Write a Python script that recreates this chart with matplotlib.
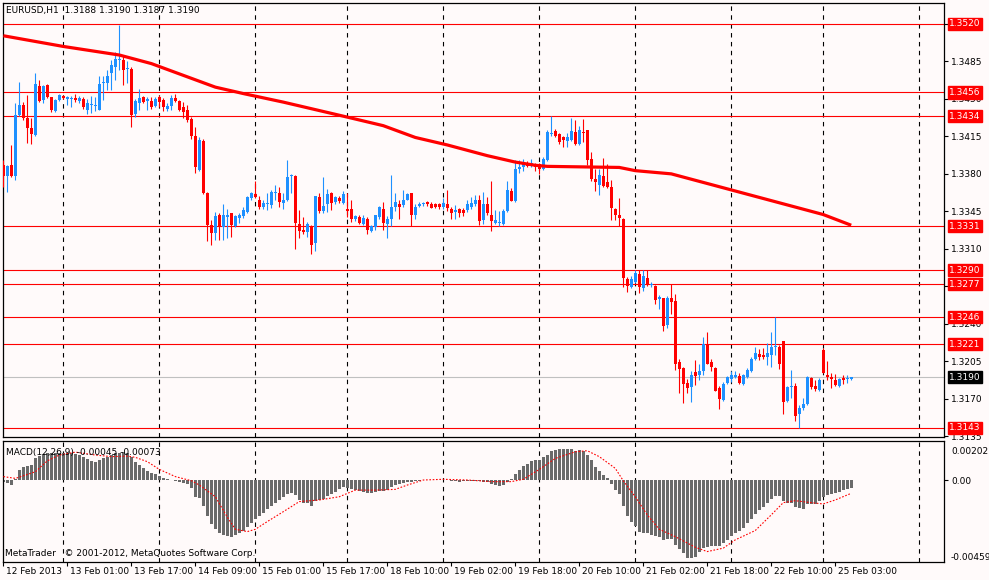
import matplotlib.pyplot as plt
import matplotlib.transforms as mtransforms
import numpy as np

# EURUSD H1 candles, bar 0 = 12 Feb 2013 09:00
opens = [
1.3388,1.3378,1.3388,1.3378,1.3435,1.3444,1.3432,1.3423,1.3416,1.3462,
1.3449,1.3463,1.3452,1.3439,1.3449,1.3453,1.3450,1.3450,1.3451,1.3448,
1.3450,1.3440,1.3444,1.3443,1.3440,1.3465,1.3465,1.3474,1.3480,1.3486,
1.3486,1.3478,1.3478,1.3436,1.3446,1.3452,1.3448,1.3448,1.3443,1.3452,
1.3449,1.3441,1.3443,1.3451,1.3448,1.3442,1.3440,1.3431,1.3415,1.3384,
1.3411,1.3362,1.3332,1.3325,1.3342,1.3330,1.3340,1.3343,1.3331,1.3339,
1.3341,1.3344,1.3357,1.3361,1.3356,1.3349,1.3352,1.3351,1.3362,1.3362,
1.3353,1.3356,1.3378,1.3378,1.3333,1.3328,1.3326,1.3331,1.3315,1.3358,
1.3345,1.3352,1.3362,1.3354,1.3357,1.3353,1.3347,1.3347,1.3338,1.3340,
1.3333,1.3338,1.3327,1.3330,1.3340,1.3347,1.3333,1.3338,1.3349,1.3352,
1.3351,1.3356,1.3362,1.3342,1.3350,1.3352,1.3354,1.3352,1.3352,1.3352,
1.3349,1.3352,1.3347,1.3344,1.3347,1.3346,1.3346,1.3349,1.3352,1.3356,
1.3337,1.3352,1.3342,1.3334,1.3334,1.3333,1.3345,1.3364,1.3355,1.3385,
1.3386,1.3390,1.3387,1.3389,1.3389,1.3385,1.3393,1.3417,1.3420,1.3417,
1.3414,1.3411,1.3412,1.3419,1.3408,1.3419,1.3421,1.3394,1.3375,1.3370,
1.3378,1.3372,1.3368,1.3347,1.3342,1.3338,1.3282,1.3274,1.3279,1.3286,
1.3273,1.3283,1.3276,1.3275,1.3263,1.3264,1.3239,1.3264,1.3261,1.3204,
1.3199,1.3185,1.3181,1.3195,1.3192,1.3196,1.3221,1.3204,1.3199,1.3180,
1.3169,1.3185,1.3188,1.3190,1.3191,1.3184,1.3190,1.3196,1.3207,1.3212,
1.3211,1.3209,1.3211,1.3218,1.3218,1.3224,1.3168,1.3181,1.3182,1.3156,
1.3161,1.3165,1.3189,1.3182,1.3178,1.3215,1.3192,1.3190,1.3187,1.3182,
1.3189,1.3188,1.3188]

highs = [
1.3393,1.3388,1.3407,1.3446,1.3466,1.3447,1.3454,1.3432,1.3474,1.3468,
1.3463,1.3464,1.3452,1.3450,1.3455,1.3454,1.3453,1.3453,1.3455,1.3453,
1.3452,1.3450,1.3453,1.3452,1.3471,1.3471,1.3477,1.3486,1.3494,1.3519,
1.3491,1.3485,1.3480,1.3450,1.3459,1.3453,1.3452,1.3452,1.3452,1.3454,
1.3451,1.3446,1.3454,1.3455,1.3449,1.3447,1.3444,1.3433,1.3424,1.3414,
1.3413,1.3363,1.3337,1.3344,1.3343,1.3352,1.3347,1.3343,1.3342,1.3343,
1.3349,1.3359,1.3363,1.3373,1.3359,1.3356,1.3362,1.3365,1.3370,1.3368,
1.3362,1.3393,1.3380,1.3379,1.3346,1.3340,1.3335,1.3332,1.3359,1.3362,
1.3377,1.3366,1.3363,1.3359,1.3359,1.3364,1.3362,1.3356,1.3342,1.3342,
1.3342,1.3340,1.3332,1.3342,1.3350,1.3354,1.3341,1.3379,1.3362,1.3356,
1.3365,1.3362,1.3362,1.3352,1.3354,1.3354,1.3355,1.3354,1.3353,1.3353,
1.3357,1.3365,1.3349,1.3351,1.3348,1.3348,1.3356,1.3358,1.3360,1.3360,
1.3363,1.3358,1.3373,1.3346,1.3345,1.3347,1.3373,1.3367,1.3393,1.3393,
1.3394,1.3392,1.3394,1.3390,1.3390,1.3396,1.3421,1.3434,1.3422,1.3418,
1.3415,1.3418,1.3432,1.3430,1.3425,1.3431,1.3421,1.3400,1.3385,1.3385,
1.3395,1.3389,1.3374,1.3348,1.3357,1.3339,1.3284,1.3285,1.3290,1.3290,
1.3290,1.3290,1.3279,1.3276,1.3267,1.3264,1.3266,1.3277,1.3268,1.3207,
1.3200,1.3188,1.3196,1.3206,1.3202,1.3228,1.3232,1.3207,1.3200,1.3182,
1.3186,1.3191,1.3196,1.3196,1.3194,1.3193,1.3199,1.3209,1.3218,1.3216,
1.3217,1.3222,1.3232,1.3246,1.3220,1.3224,1.3182,1.3197,1.3185,1.3164,
1.3171,1.3191,1.3190,1.3187,1.3189,1.3217,1.3205,1.3194,1.3193,1.3189,
1.3192,1.3192,1.3190]

lows = [
1.3368,1.3363,1.3377,1.3374,1.3434,1.3430,1.3409,1.3408,1.3415,1.3447,
1.3446,1.3451,1.3438,1.3438,1.3448,1.3450,1.3444,1.3442,1.3447,1.3446,
1.3441,1.3436,1.3437,1.3439,1.3440,1.3449,1.3458,1.3458,1.3468,1.3477,
1.3463,1.3465,1.3424,1.3433,1.3440,1.3446,1.3440,1.3441,1.3442,1.3442,
1.3439,1.3439,1.3440,1.3447,1.3439,1.3432,1.3428,1.3413,1.3381,1.3383,
1.3361,1.3317,1.3314,1.3318,1.3318,1.3318,1.3320,1.3321,1.3330,1.3334,
1.3339,1.3343,1.3356,1.3357,1.3347,1.3347,1.3346,1.3348,1.3356,1.3349,
1.3347,1.3355,1.3362,1.3310,1.3320,1.3324,1.3321,1.3305,1.3308,1.3343,
1.3343,1.3344,1.3346,1.3352,1.3353,1.3352,1.3340,1.3335,1.3336,1.3333,
1.3332,1.3324,1.3326,1.3328,1.3338,1.3328,1.3320,1.3331,1.3345,1.3338,
1.3349,1.3356,1.3331,1.3338,1.3349,1.3350,1.3350,1.3348,1.3348,1.3347,
1.3347,1.3345,1.3338,1.3338,1.3340,1.3341,1.3344,1.3347,1.3350,1.3332,
1.3333,1.3342,1.3327,1.3333,1.3331,1.3332,1.3344,1.3355,1.3354,1.3381,
1.3383,1.3386,1.3386,1.3383,1.3380,1.3384,1.3392,1.3415,1.3414,1.3408,
1.3405,1.3405,1.3411,1.3407,1.3407,1.3410,1.3388,1.3373,1.3364,1.3360,
1.3368,1.3367,1.3337,1.3337,1.3331,1.3274,1.3270,1.3273,1.3278,1.3269,
1.3271,1.3275,1.3274,1.3258,1.3254,1.3233,1.3236,1.3249,1.3197,1.3175,
1.3166,1.3175,1.3167,1.3183,1.3187,1.3192,1.3202,1.3196,1.3177,1.3160,
1.3168,1.3184,1.3186,1.3189,1.3184,1.3183,1.3189,1.3195,1.3206,1.3206,
1.3207,1.3201,1.3200,1.3211,1.3198,1.3156,1.3167,1.3171,1.3149,1.3143,
1.3159,1.3164,1.3179,1.3177,1.3177,1.3194,1.3187,1.3180,1.3182,1.3181,
1.3184,1.3185,1.3187]

closes = [
1.3378,1.3387,1.3378,1.3435,1.3444,1.3432,1.3423,1.3417,1.3464,1.3448,
1.3462,1.3452,1.3440,1.3449,1.3454,1.3451,1.3452,1.3451,1.3449,1.3451,
1.3442,1.3446,1.3445,1.3444,1.3464,1.3466,1.3471,1.3482,1.3487,1.3487,
1.3477,1.3479,1.3435,1.3448,1.3451,1.3447,1.3450,1.3442,1.3450,1.3447,
1.3442,1.3443,1.3451,1.3448,1.3440,1.3438,1.3430,1.3415,1.3386,1.3412,
1.3362,1.3332,1.3325,1.3341,1.3330,1.3342,1.3342,1.3332,1.3341,1.3342,
1.3346,1.3358,1.3362,1.3358,1.3349,1.3353,1.3352,1.3363,1.3363,1.3354,
1.3356,1.3377,1.3379,1.3334,1.3327,1.3326,1.3333,1.3314,1.3359,1.3345,
1.3350,1.3361,1.3353,1.3358,1.3355,1.3361,1.3345,1.3338,1.3341,1.3334,
1.3339,1.3328,1.3331,1.3342,1.3349,1.3334,1.3338,1.3349,1.3354,1.3349,
1.3356,1.3361,1.3342,1.3349,1.3352,1.3353,1.3352,1.3348,1.3349,1.3349,
1.3353,1.3348,1.3343,1.3346,1.3343,1.3343,1.3352,1.3353,1.3356,1.3336,
1.3352,1.3343,1.3336,1.3337,1.3335,1.3345,1.3365,1.3355,1.3385,1.3386,
1.3390,1.3387,1.3390,1.3386,1.3385,1.3394,1.3419,1.3418,1.3415,1.3410,
1.3412,1.3414,1.3420,1.3408,1.3421,1.3418,1.3393,1.3375,1.3372,1.3379,
1.3369,1.3368,1.3348,1.3342,1.3339,1.3283,1.3275,1.3282,1.3287,1.3274,
1.3285,1.3277,1.3277,1.3262,1.3265,1.3238,1.3264,1.3260,1.3202,1.3198,
1.3184,1.3180,1.3192,1.3191,1.3196,1.3221,1.3202,1.3200,1.3177,1.3170,
1.3184,1.3190,1.3192,1.3192,1.3185,1.3192,1.3197,1.3207,1.3213,1.3209,
1.3209,1.3213,1.3218,1.3219,1.3202,1.3167,1.3181,1.3182,1.3154,1.3161,
1.3165,1.3190,1.3181,1.3179,1.3187,1.3194,1.3190,1.3188,1.3183,1.3188,
1.3187,1.3189,1.3190]

# moving average (red thick line), read at some bars
ma_bars = [0, 15, 29, 37, 45, 53, 60, 70, 78, 86, 95, 103, 111, 121, 128,
           133, 136, 154, 158, 167, 176, 182, 192, 205, 212]
ma_vals = [1.3509, 1.3499, 1.3491, 1.3483, 1.3472, 1.3461, 1.3455, 1.3447,
           1.3440, 1.3433, 1.3425, 1.3414, 1.3407, 1.3397, 1.3391, 1.3388,
           1.3387, 1.3386, 1.3383, 1.3380, 1.3371, 1.3365, 1.3355, 1.3342,
           1.3332]

# MACD(12,26,9) histogram
macd_hist = [
-0.00013,-0.00015,-0.00028,0.00004,0.00056,0.00070,0.00078,0.00083,0.00120,0.00133,
0.00144,0.00152,0.00148,0.00152,0.00152,0.00152,0.00148,0.00148,0.00144,0.00139,
0.00126,0.00115,0.00107,0.00102,0.00111,0.00120,0.00130,0.00139,0.00148,0.00152,
0.00157,0.00152,0.00130,0.00102,0.00083,0.00065,0.00052,0.00041,0.00033,0.00022,
0.00009,0.00004,0.00002,-0.00004,-0.00009,-0.00015,-0.00022,-0.00046,-0.00093,-0.00102,
-0.00144,-0.00200,-0.00244,-0.00274,-0.00296,-0.00307,-0.00311,-0.00315,-0.00305,-0.00296,
-0.00281,-0.00259,-0.00237,-0.00218,-0.00200,-0.00181,-0.00163,-0.00144,-0.00130,-0.00111,
-0.00093,-0.00078,-0.00070,-0.00083,-0.00111,-0.00126,-0.00126,-0.00144,-0.00115,-0.00111,
-0.00107,-0.00089,-0.00078,-0.00065,-0.00052,-0.00041,-0.00046,-0.00052,-0.00056,-0.00059,
-0.00065,-0.00074,-0.00074,-0.00067,-0.00059,-0.00059,-0.00056,-0.00041,-0.00028,-0.00022,
-0.00015,-0.00009,-0.00011,-0.00007,-0.00004,-0.00001,-0.00002,-0.00001,-0.00001,0.00001,
-0.00001,-0.00002,-0.00004,-0.00006,-0.00009,-0.00007,-0.00006,-0.00004,-0.00004,-0.00007,
-0.00009,-0.00011,-0.00020,-0.00028,-0.00033,-0.00028,-0.00009,0.00004,0.00033,0.00056,
0.00078,0.00089,0.00105,0.00111,0.00111,0.00130,0.00139,0.00161,0.00167,0.00170,
0.00172,0.00172,0.00170,0.00163,0.00167,0.00163,0.00139,0.00111,0.00074,0.00052,
0.00028,0.00013,-0.00024,-0.00056,-0.00080,-0.00144,-0.00200,-0.00231,-0.00255,-0.00287,
-0.00292,-0.00296,-0.00305,-0.00311,-0.00315,-0.00333,-0.00329,-0.00329,-0.00361,-0.00385,
-0.00407,-0.00431,-0.00431,-0.00426,-0.00403,-0.00379,-0.00370,-0.00366,-0.00366,-0.00366,
-0.00352,-0.00333,-0.00311,-0.00292,-0.00281,-0.00268,-0.00237,-0.00218,-0.00189,-0.00167,
-0.00148,-0.00126,-0.00107,-0.00089,-0.00089,-0.00115,-0.00130,-0.00130,-0.00148,-0.00157,
-0.00163,-0.00133,-0.00133,-0.00133,-0.00115,-0.00096,-0.00083,-0.00078,-0.00070,-0.00065,
-0.00056,-0.00052,-0.00046]

# signal line (red dotted), read at some bars
sig_bars = [0, 3, 8, 11, 14, 18, 23, 27, 31, 33, 36, 39, 43, 47, 49, 53, 56, 58,
            61, 63, 66, 70, 74, 79, 84, 88, 93, 98, 101, 105, 110, 116, 122,
            127, 130, 134, 138, 143, 146, 149, 153, 155, 158, 161, 164, 168,
            173, 176, 180, 183, 188, 192, 195, 198, 202, 205, 208, 212]
sig_vals = [0.00019, 0.00009, 0.00046, 0.00107, 0.00139, 0.00155, 0.00139,
            0.00130, 0.00133, 0.00126, 0.00102, 0.00059, 0.00019, -0.00004,
            -0.00028, -0.00093, -0.00207, -0.00274, -0.00287, -0.00274,
            -0.00231, -0.00176, -0.00120, -0.00111, -0.00093, -0.00056,
            -0.00056, -0.00052, -0.00028, 0.0, 0.00004, 0.0, -0.00009,
            -0.00009, 0.00004, 0.00059, 0.00120, 0.00157, 0.00163, 0.00130,
            0.00065, -0.00004, -0.00093, -0.00194, -0.00274, -0.00315,
            -0.00374, -0.00398, -0.00379, -0.00333, -0.00281, -0.00194,
            -0.00126, -0.00115, -0.00126, -0.00133, -0.00111, -0.00074]

levels = [1.3520, 1.3456, 1.3434, 1.3331, 1.3290, 1.3277, 1.3246, 1.3221, 1.3143]
bid = 1.3190
price_ticks = [1.3520, 1.3485, 1.3450, 1.3415, 1.3380, 1.3345, 1.3310,
               1.3275, 1.3240, 1.3205, 1.3170, 1.3135]
day_starts = [15, 39, 63, 86, 110, 134, 158, 182, 205, 229]
tick_bars = [0, 16, 32, 48, 64, 80, 96, 112, 128, 144, 160, 176, 192, 208]
tick_labels = ['12 Feb 2013', '13 Feb 01:00', '13 Feb 17:00', '14 Feb 09:00',
               '15 Feb 01:00', '15 Feb 17:00', '18 Feb 10:00', '19 Feb 02:00',
               '19 Feb 18:00', '20 Feb 10:00', '21 Feb 02:00', '21 Feb 18:00',
               '22 Feb 10:00', '25 Feb 03:00']

W, H = 989, 580
bg = '#FFFAFA'
fs = 6.5
plt.rcParams['font.family'] = ['DejaVu Sans']

fig = plt.figure(figsize=(W / 100, H / 100), dpi=100, facecolor=bg)
ax = fig.add_axes([3 / W, 1 - 437 / H, 941 / W, 434 / H], facecolor=bg)
ax2 = fig.add_axes([3 / W, 1 - 562 / H, 941 / W, 121 / H], facecolor=bg)

x = np.arange(len(closes))
o = np.array(opens)
c = np.array(closes)
hi = np.array(highs)
lo = np.array(lows)
col = np.where(c >= o, '#1E90FF', '#FF0000')

# background objects
ax.axhline(bid, color='#C0C0C0', lw=0.8, zorder=1)
for lv in levels:
    ax.axhline(lv, color='#FF0000', lw=0.8, zorder=2)
for d in day_starts:
    ax.axvline(d, color='black', lw=0.8, ls=(0, (4, 4)), zorder=1)
    ax2.axvline(d, color='black', lw=0.8, ls=(0, (4, 4)), zorder=1)

# candles
ax.vlines(x, lo, hi, colors=col, lw=0.8, zorder=3)
body = np.maximum(np.abs(c - o), 0.00009)
ax.bar(x, body, bottom=np.minimum(o, c), width=0.75, color=col, lw=0, zorder=3)

ax.plot(ma_bars, ma_vals, color='#FF0000', lw=2.3, zorder=4, solid_capstyle='butt')

ax.set_xlim(-0.1, 235.2)
ax.set_ylim(1.31342, 1.35396)
ax.set_xticks([])
ax.yaxis.tick_right()
ax.set_yticks(price_ticks)
ax.set_yticklabels(['%.4f' % p for p in price_ticks])
ax.tick_params(axis='y', direction='out', length=3, width=0.8, labelsize=fs, pad=2)
for s in ax.spines.values():
    s.set_linewidth(0.9)

trans = mtransforms.blended_transform_factory(ax.transAxes, ax.transData)
for lv in levels:
    ax.text(1.0055, lv, '%.4f' % lv, transform=trans, color='white', fontsize=fs,
            va='center', ha='left', clip_on=False, zorder=10,
            bbox=dict(boxstyle='square,pad=0.17', fc='#FF0000', ec='#FF0000'))
ax.text(1.0055, bid, '%.4f' % bid, transform=trans, color='white', fontsize=fs,
        va='center', ha='left', clip_on=False, zorder=10,
        bbox=dict(boxstyle='square,pad=0.17', fc='black', ec='black'))

# MACD window
ax2.bar(x, macd_hist, width=0.75, color='#6A6A6A', lw=0, zorder=2)
ax2.plot(sig_bars, sig_vals, color='#FF0000', lw=0.8, ls=(0, (1.5, 1.5)), zorder=3)
ax2.set_xlim(-0.1, 235.2)
ax2.set_ylim(-0.00456, 0.00217)
ax2.yaxis.tick_right()
ax2.set_yticks([0])
ax2.set_yticklabels(['0.00'])
ax2.tick_params(axis='y', direction='out', length=3, width=0.8, labelsize=fs, pad=2)
ax2.set_xticks(tick_bars)
ax2.set_xticklabels([])
ax2.tick_params(axis='x', direction='out', length=3, width=0.8)
for s in ax2.spines.values():
    s.set_linewidth(0.9)

fig.text(951 / W, 1 - 451 / H, '0.00202', fontsize=fs, va='center', ha='left')
fig.text(951 / W, 1 - 557 / H, '-0.00459', fontsize=fs, va='center', ha='left')

ttrans = mtransforms.blended_transform_factory(ax2.transData, fig.transFigure)
for b, lab in zip(tick_bars, tick_labels):
    ax2.text(b + 0.75, 1 - 572 / H, lab, transform=ttrans, fontsize=fs,
             va='center', ha='left', clip_on=False)

fig.text(6 / W, 1 - 10 / H, 'EURUSD,H1  1.3188 1.3190 1.3187 1.3190',
         fontsize=fs, va='center', ha='left')
fig.text(6 / W, 1 - 452 / H, 'MACD(12,26,9) -0.00045 -0.00073',
         fontsize=fs, va='center', ha='left')
fig.text(5 / W, 1 - 553 / H, 'MetaTrader   \u00a9 2001-2012, MetaQuotes Software Corp.',
         fontsize=fs, va='center', ha='left')

fig.savefig('out.png', dpi=100, facecolor=bg)
